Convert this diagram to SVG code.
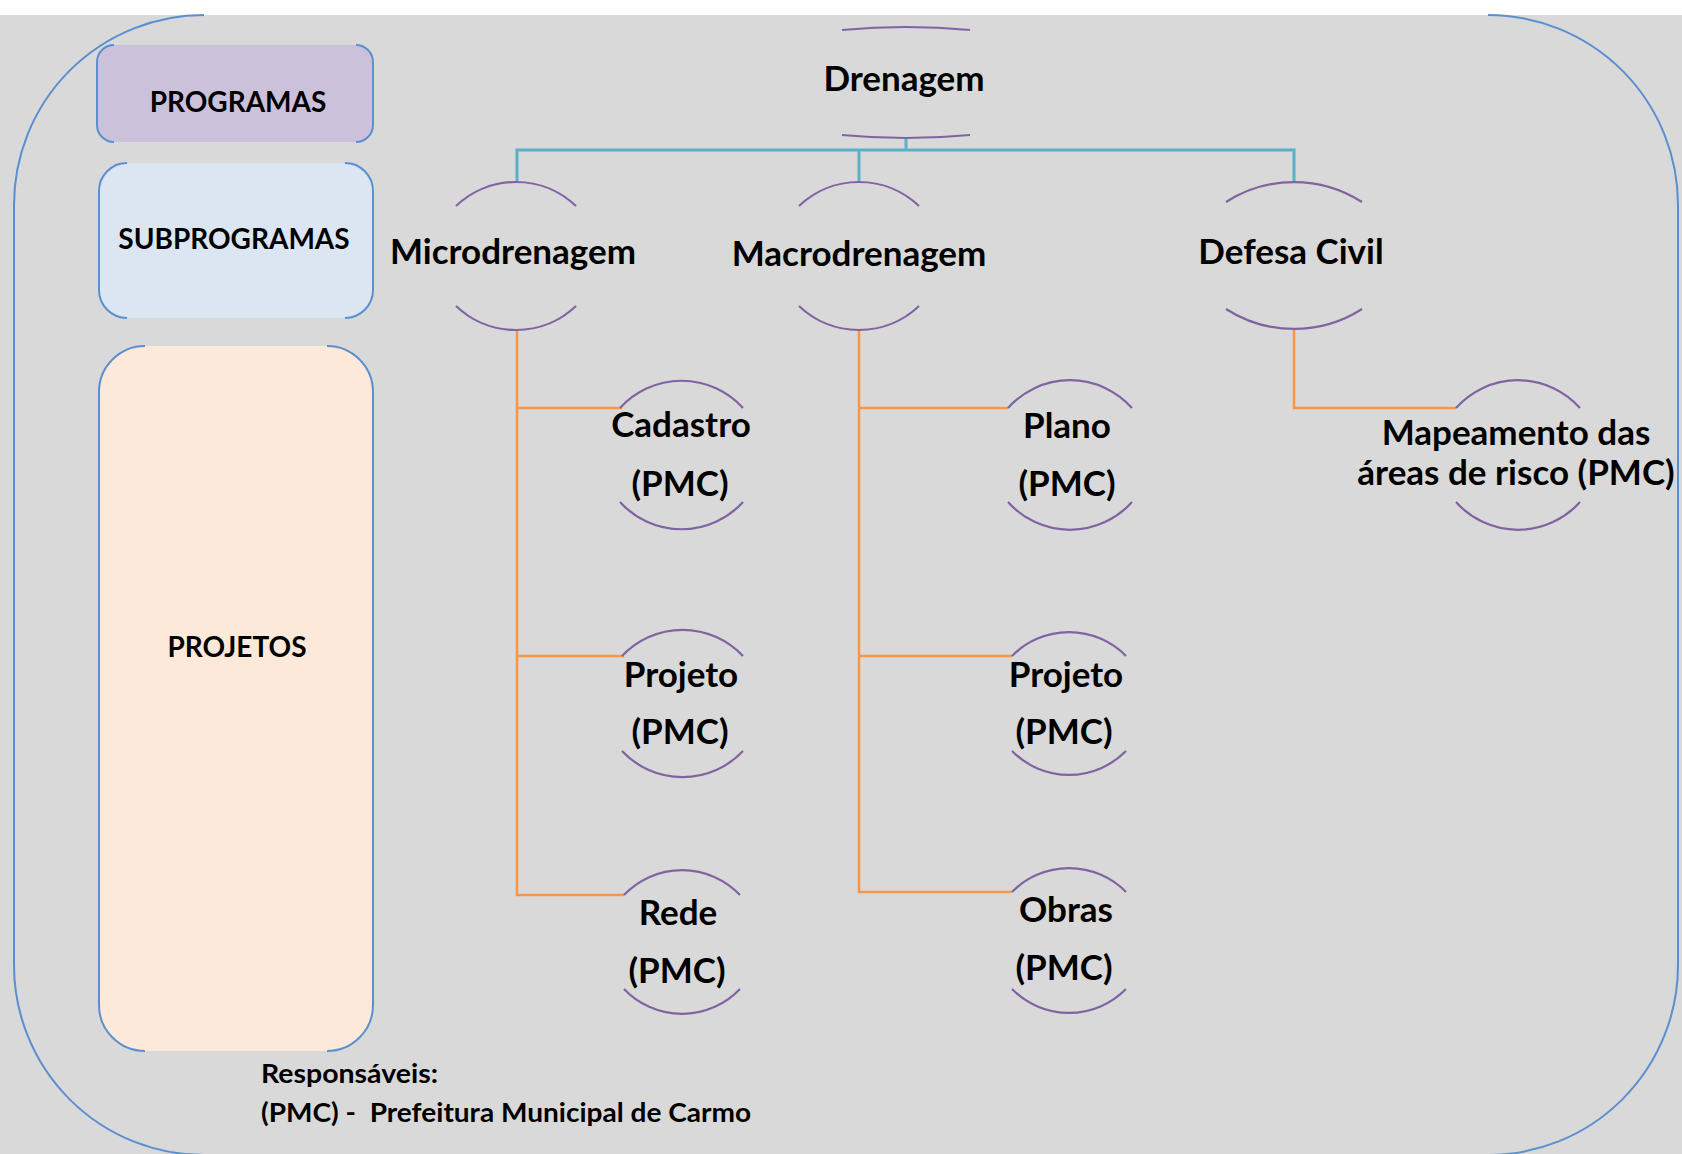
<svg xmlns="http://www.w3.org/2000/svg" width="1682" height="1154" viewBox="0 0 1682 1154">
<style>
.bg{fill:#d9d9d9}
.frame{fill:none;stroke:#5b8fd0;stroke-width:2}
.arc{fill:none;stroke:#8064a2;stroke-width:2.2}
.teal{fill:none;stroke:#5bb0c8;stroke-width:3}
.orange{fill:none;stroke:#f79646;stroke-width:2.5}
.lbl{font-family:Lato,"Liberation Sans",sans-serif;font-weight:bold;font-size:35px;fill:#000;text-anchor:middle}
.box{font-family:Lato,"Liberation Sans",sans-serif;font-weight:bold;font-size:28px;fill:#000;text-anchor:middle}
.foot{font-family:Lato,"Liberation Sans",sans-serif;font-weight:bold;font-size:27px;fill:#000;white-space:pre}
</style>
<rect width="1682" height="1154" fill="#ffffff"/>
<rect class="bg" x="0" y="15" width="1682" height="1139"/>
<g id="frame">
<path class="frame" d="M204 15 A190 190 0 0 0 14 205 V965 A190 190 0 0 0 204 1155"/>
<path class="frame" d="M1488 15 A190 190 0 0 1 1678 205 V965 A190 190 0 0 1 1488 1155"/>
</g>
<g id="legend-programas">
<rect x="97" y="45" width="276" height="97" rx="17" fill="#ccc1da"/>
<path class="frame" d="M114 45 A17 17 0 0 0 97 62 V125 A17 17 0 0 0 114 142"/>
<path class="frame" d="M356 45 A17 17 0 0 1 373 62 V125 A17 17 0 0 1 356 142"/>
<text class="box" x="238" y="112">PROGRAMAS</text>
</g>
<g id="legend-subprogramas">
<rect x="99" y="163" width="274" height="155" rx="28" fill="#dce6f2"/>
<path class="frame" d="M127 163 A28 28 0 0 0 99 191 V290 A28 28 0 0 0 127 318"/>
<path class="frame" d="M345 163 A28 28 0 0 1 373 191 V290 A28 28 0 0 1 345 318"/>
<text class="box" x="234" y="249">SUBPROGRAMAS</text>
</g>
<g id="legend-projetos">
<rect x="99" y="346" width="274" height="705" rx="46" fill="#fde9d9"/>
<path class="frame" d="M145 346 A46 46 0 0 0 99 392 V1005 A46 46 0 0 0 145 1051"/>
<path class="frame" d="M327 346 A46 46 0 0 1 373 392 V1005 A46 46 0 0 1 327 1051"/>
<text class="box" x="237" y="657">PROJETOS</text>
</g>
<g id="connectors">
<path class="teal" d="M906 139 V150"/>
<path class="teal" d="M517 182 V150 H1294 V182"/>
<path class="teal" d="M859 150 V182"/>
<path class="orange" d="M517 329 V895 H624"/>
<path class="orange" d="M517 408 H622"/>
<path class="orange" d="M517 656 H624"/>
<path class="orange" d="M859 329 V892 H1012"/>
<path class="orange" d="M859 408 H1008"/>
<path class="orange" d="M859 656 H1012"/>
<path class="orange" d="M1294 329 V408 H1456"/>
</g>
<g id="node-drenagem">
<path class="arc" d="M842 30 A684 684 0 0 1 970 30"/>
<path class="arc" d="M842 135 A684 684 0 0 0 970 135"/>
<text class="lbl" x="904" y="91">Drenagem</text>
</g>
<g id="node-microdrenagem">
<path class="arc" d="M456 206 A87 87 0 0 1 576 206"/>
<path class="arc" d="M456 306 A87 87 0 0 0 576 306"/>
<text class="lbl" x="513" y="264">Microdrenagem</text>
</g>
<g id="node-macrodrenagem">
<path class="arc" d="M799 206 A87 87 0 0 1 919 206"/>
<path class="arc" d="M799 306 A87 87 0 0 0 919 306"/>
<text class="lbl" x="859" y="266">Macrodrenagem</text>
</g>
<g id="node-defesa-civil">
<path class="arc" d="M1226 202 A126 126 0 0 1 1362 202"/>
<path class="arc" d="M1226 309 A126 126 0 0 0 1362 309"/>
<text class="lbl" x="1291" y="264">Defesa Civil</text>
</g>
<g id="node-cadastro">
<path class="arc" d="M620 408 A83 83 0 0 1 743 408"/>
<path class="arc" d="M620 502 A83 83 0 0 0 743 502"/>
<text class="lbl" x="681" y="437">Cadastro</text>
<text class="lbl" x="680" y="496">(PMC)</text>
</g>
<g id="node-projeto-micro">
<path class="arc" d="M622 656 A83 83 0 0 1 743 656"/>
<path class="arc" d="M622 751 A83 83 0 0 0 743 751"/>
<text class="lbl" x="681" y="687">Projeto</text>
<text class="lbl" x="680" y="744">(PMC)</text>
</g>
<g id="node-rede">
<path class="arc" d="M624 895 A80 80 0 0 1 740 895"/>
<path class="arc" d="M624 989 A80 80 0 0 0 740 989"/>
<text class="lbl" x="678" y="925">Rede</text>
<text class="lbl" x="677" y="983">(PMC)</text>
</g>
<g id="node-plano">
<path class="arc" d="M1008 408 A83 83 0 0 1 1132 408"/>
<path class="arc" d="M1008 502 A83 83 0 0 0 1132 502"/>
<text class="lbl" x="1067" y="438">Plano</text>
<text class="lbl" x="1067" y="496">(PMC)</text>
</g>
<g id="node-projeto-macro">
<path class="arc" d="M1012 656 A80 80 0 0 1 1126 656"/>
<path class="arc" d="M1012 751 A80 80 0 0 0 1126 751"/>
<text class="lbl" x="1066" y="687">Projeto</text>
<text class="lbl" x="1064" y="744">(PMC)</text>
</g>
<g id="node-obras">
<path class="arc" d="M1012 892 A80 80 0 0 1 1126 892"/>
<path class="arc" d="M1012 989 A80 80 0 0 0 1126 989"/>
<text class="lbl" x="1066" y="922">Obras</text>
<text class="lbl" x="1064" y="980">(PMC)</text>
</g>
<g id="node-mapeamento">
<path class="arc" d="M1456 408 A83 83 0 0 1 1580 408"/>
<path class="arc" d="M1456 502 A83 83 0 0 0 1580 502"/>
<text class="lbl" x="1516" y="445">Mapeamento das</text>
<text class="lbl" x="1516" y="485">áreas de risco (PMC)</text>
</g>
<g id="footer">
<text class="foot" x="261" y="1083" textLength="177" lengthAdjust="spacingAndGlyphs">Responsáveis:</text>
<text class="foot" x="261" y="1122" textLength="490" lengthAdjust="spacingAndGlyphs">(PMC) -  Prefeitura Municipal de Carmo</text>
</g>
</svg>
